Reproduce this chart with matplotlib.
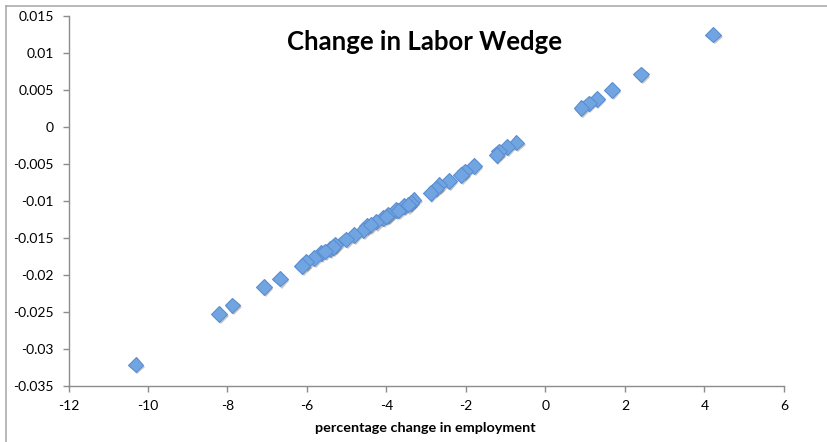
import matplotlib
matplotlib.use("Agg")
import matplotlib.pyplot as plt
from matplotlib import patheffects as pe
from matplotlib.lines import Line2D

# data
emp_change = [4.22, 2.40, 1.67, 1.29, 1.09, 0.90,
              -0.73, -0.97, -1.17, -1.23,
              -1.80, -2.03, -2.12, -2.43, -2.67, -2.76, -2.89,
              -3.32, -3.39, -3.56, -3.76, -3.96, -4.09, -4.26, -4.49, -4.58,
              -4.82, -5.02, -5.29, -5.42, -5.65, -5.82, -6.02, -6.12,
              -3.45, -3.70, -4.00, -4.40, -5.35, -5.55,
              -6.68, -7.08, -7.88, -8.21, -10.31]
wedge_change = [0.0125, 0.0071, 0.0050, 0.0038, 0.0032, 0.0026,
                -0.0021, -0.0027, -0.0033, -0.0038,
                -0.0053, -0.0060, -0.0065, -0.0073, -0.0078, -0.0083, -0.0089,
                -0.0098, -0.0103, -0.0107, -0.0112, -0.0119, -0.0123, -0.0128, -0.0134, -0.0139,
                -0.0146, -0.0152, -0.0159, -0.0165, -0.0170, -0.0177, -0.0182, -0.0188,
                -0.0105, -0.0113, -0.0121, -0.0132, -0.0162, -0.0168,
                -0.0205, -0.0216, -0.0241, -0.0253, -0.0321]

x_ticks = [-12, -10, -8, -6, -4, -2, 0, 2, 4, 6]
x_tick_labels = ["-12", "-10", "-8", "-6", "-4", "-2", "0", "2", "4", "6"]
y_ticks = [0.015, 0.01, 0.005, 0, -0.005, -0.01, -0.015, -0.02, -0.025, -0.03, -0.035]
y_tick_labels = ["0.015", "0.01", "0.005", "0", "-0.005", "-0.01", "-0.015",
                 "-0.02", "-0.025", "-0.03", "-0.035"]

title_text = "Change in Labor Wedge"
xlabel_text = "percentage change in employment"

W, H = 828, 442
fig = plt.figure(figsize=(W / 100, H / 100), dpi=100)
fig.patch.set_facecolor("white")

# outer chart-area border (top and left visible)
fig.add_artist(Line2D([6.5 / W, 1.0], [1 - 5.5 / H, 1 - 5.5 / H], color="#a6a6a6", lw=1.1,
                      transform=fig.transFigure))
fig.add_artist(Line2D([6.5 / W, 6.5 / W], [0, 1 - 5.5 / H], color="#a6a6a6", lw=1.1,
                      transform=fig.transFigure))

left, right, top, bottom = 68.5, 784, 16, 386
ax = fig.add_axes([left / W, 1 - bottom / H, (right - left) / W, (bottom - top) / H])

ax.plot(emp_change, wedge_change, linestyle="none", marker="D", markersize=7.9,
        markerfacecolor="#71a5e2", markeredgecolor="#5b8dd0", markeredgewidth=0.8,
        path_effects=[pe.SimplePatchShadow(offset=(1.2, -1.5), shadow_rgbFace="#000000",
                                           alpha=0.22), pe.Normal()],
        clip_on=False, zorder=3)

ax.set_xlim(-12, 6)
ax.set_ylim(-0.035, 0.015)
ax.set_xticks(x_ticks)
ax.set_xticklabels(x_tick_labels)
ax.set_yticks(y_ticks)
ax.set_yticklabels(y_tick_labels)

for s in ["top", "right"]:
    ax.spines[s].set_visible(False)
for s in ["left", "bottom"]:
    ax.spines[s].set_color("#8c8c8c")
    ax.spines[s].set_linewidth(1.0)

ax.tick_params(axis="both", colors="#8c8c8c", length=4, width=1.0, direction="out",
               labelcolor="black", labelsize=10)
ax.tick_params(axis="y", pad=6.5)
ax.tick_params(axis="x", pad=6)
for lab in ax.get_xticklabels() + ax.get_yticklabels():
    lab.set_family("Lato")

fig.text(425 / W, 1 - 42 / H, title_text, ha="center", va="center",
         fontsize=18.5, fontweight="bold", family="Lato")
fig.text(425 / W, 1 - 428 / H, xlabel_text, ha="center", va="center",
         fontsize=10.4, fontweight="bold", family="Lato")

fig.savefig("out.png", dpi=100)
